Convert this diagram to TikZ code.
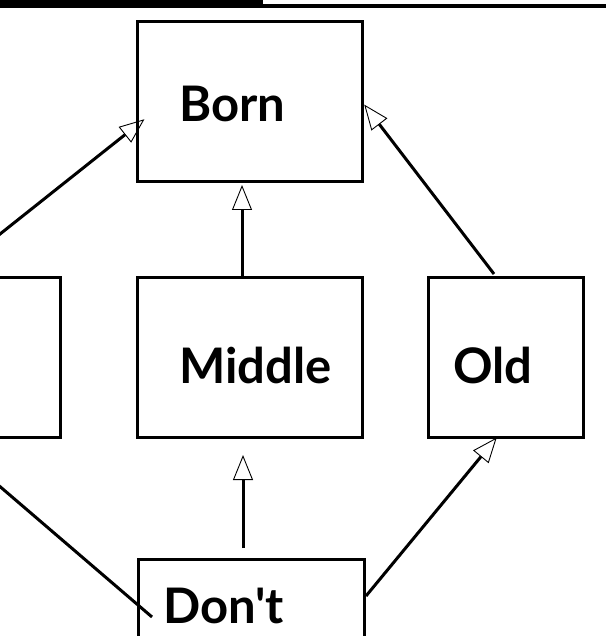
\documentclass[tikz,border=0pt]{standalone}
\usepackage{fontspec}
\newfontfamily\lato{Lato}
\usetikzlibrary{arrows.meta}
\begin{document}
\begin{tikzpicture}[x=1pt,y=-1pt,
  box/.style={draw, line width=3pt, inner sep=0pt, minimum height=160pt},
  lbl/.style={anchor=base west, inner sep=0pt, font=\lato\bfseries\fontsize{49}{52}\selectfont},
  conn/.style={line width=3pt},
  tip/.style={-{Triangle[open, length=25pt, width=20pt, line width=0.9pt, sep=2pt]}}
]
\useasboundingbox (0,0) rectangle (606,636);
% top rule
\fill (0,0) rectangle (263,7.7);
\draw[line width=3.8pt] (263,5.8) -- (606,5.8);
% boxes
\node[box, minimum width=225pt] (born) at (249.5,102) {};
\node[box, minimum width=225pt] (middle) at (249.5,357) {};
\node[box, minimum width=155pt] (old) at (505.5,357) {};
\node[box, minimum width=120pt] (left) at (0,357) {};
\node[box, minimum width=226pt, minimum height=161pt] (dont) at (251,639.5) {};
% labels
\node[lbl] (bornl) at (179,122) {Born};
\node[lbl] (middlel) at (179,383) {Middle};
\node[lbl] (oldl) at (453,383) {Old};
\node[lbl] (dontl) at (163,623) {Don't};
% connector ends
\coordinate (a1) at (-10,242);   \coordinate (a2) at (146,118);
\coordinate (b1) at (494,274);   \coordinate (b2) at (363,103);
\coordinate (c1) at (242,277);   \coordinate (c2) at (242,183);
\coordinate (d1) at (243,548);   \coordinate (d2) at (243,453);
\coordinate (e1) at (366,596);   \coordinate (e2) at (498,436);
\coordinate (f1) at (-10,478);   \coordinate (f2) at (152,617);
% connectors
\draw[conn,tip] (a1) -- (a2);
\draw[conn,tip] (b1) -- (b2);
\draw[conn,tip] (c1) -- (c2);
\draw[conn,tip] (d1) -- (d2);
\draw[conn,tip] (e1) -- (e2);
\draw[conn] (f1) -- (f2);
\end{tikzpicture}
\end{document}
